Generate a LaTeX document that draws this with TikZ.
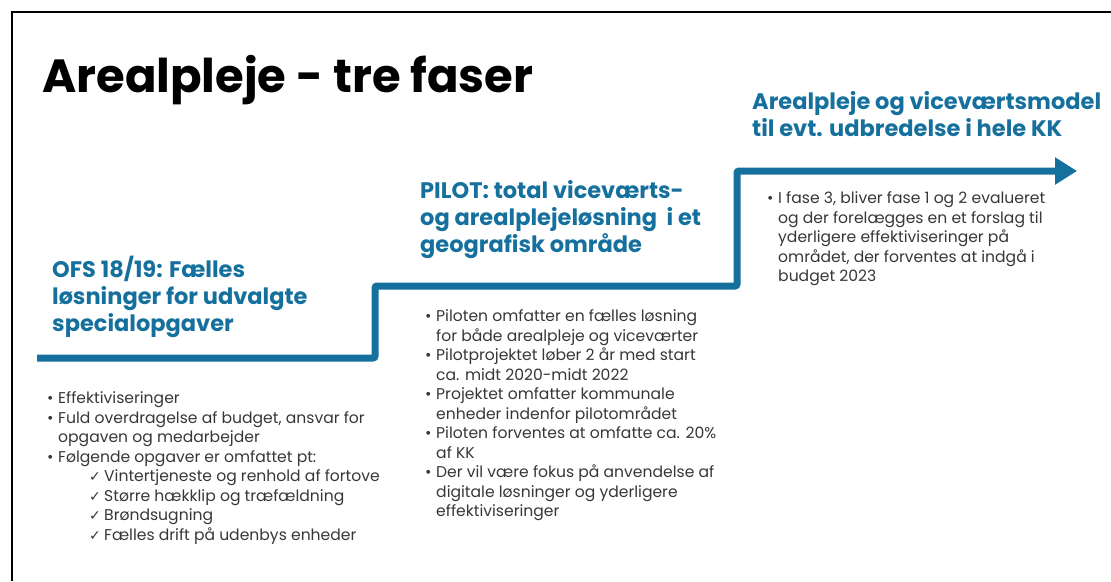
\documentclass[tikz,border=0pt]{standalone}
\usepackage{fontspec}
\setmainfont{Poppins}
\newfontfamily\symfont{DejaVu Sans}
\usetikzlibrary{arrows.meta}

\definecolor{kkblue}{RGB}{22,112,158}
\definecolor{bodygray}{RGB}{55,55,55}

\newcommand{\bl}{\makebox[11pt][l]{\textbullet}}
\newcommand{\ind}{\hspace*{11pt}}
\newcommand{\ck}{\hspace*{42pt}\makebox[15pt][l]{\symfont\fontsize{14}{14}\selectfont ✓}}

\tikzset{
  phase/.style={anchor=north west, inner sep=0pt, align=left, text=kkblue,
    font=\fontsize{22.5}{27}\selectfont\bfseries},
  items/.style={anchor=north west, inner sep=0pt, align=left, text=bodygray,
    font=\fontsize{15.6}{19.5}\selectfont},
}

\begin{document}
\begin{tikzpicture}[x=1pt,y=-1pt]
    \useasboundingbox (0,0) rectangle (1111,581);
    \draw[line width=1.5pt] (12,581) -- (12,12) -- (1111,12);
    % title
    \node[anchor=base west, inner sep=0pt, font=\fontsize{46.5}{46.5}\selectfont\bfseries] (title) at (42,92) {Arealpleje - tre faser};
    % step line
    \draw[kkblue, line width=7pt, rounded corners=2pt, -{Triangle[length=22pt,width=26pt]}]
        (37,358) -- (375,358) -- (375,286) -- (737,286) -- (737,171) -- (1077,171);
    % phase headings
    \node[phase] (fase1) at (52,256) {OFS 18/19: Fælles\\løsninger for udvalgte\\specialopgaver};
    \node[phase] (fase2) at (420,180) {PILOT: total viceværts-\\og arealplejeløsning\ \ i et\\geografisk område};
    \node[phase] (fase3) at (752,91) {Arealpleje og viceværtsmodel\\til evt. udbredelse i hele KK};
    % bullet lists
    \node[items] (liste1) at (47,391.5) {\bl Effektiviseringer\\
        \bl Fuld overdragelse af budget, ansvar for\\
        \ind opgaven og medarbejder\\
        \bl Følgende opgaver er omfattet pt:\\
        \ck Vintertjeneste og renhold af fortove\\
        \ck Større hækklip og træfældning\\
        \ck Brøndsugning\\
        \ck Fælles drift på udenbys enheder};
    \node[items] (liste2) at (425,309.5) {\bl Piloten omfatter en fælles løsning\\
        \ind for både arealpleje og viceværter\\
        \bl Pilotprojektet\ løber 2 år med start\\
        \ind ca. midt 2020-midt 2022\\
        \bl Projektet omfatter kommunale\\
        \ind enheder indenfor pilotområdet\\
        \bl Piloten forventes at omfatte ca. 20\%\\
        \ind af KK\\
        \bl Der vil være fokus på anvendelse af\\
        \ind digitale løsninger og yderligere\\
        \ind effektiviseringer};
    \node[items] (liste3) at (767,191.5) {\bl I fase 3, bliver fase 1 og 2 evalueret\\
        \ind og der forelægges en et forslag til\\
        \ind yderligere effektiviseringer på\\
        \ind området, der forventes at indgå i\\
        \ind budget 2023};
\end{tikzpicture}
\end{document}
